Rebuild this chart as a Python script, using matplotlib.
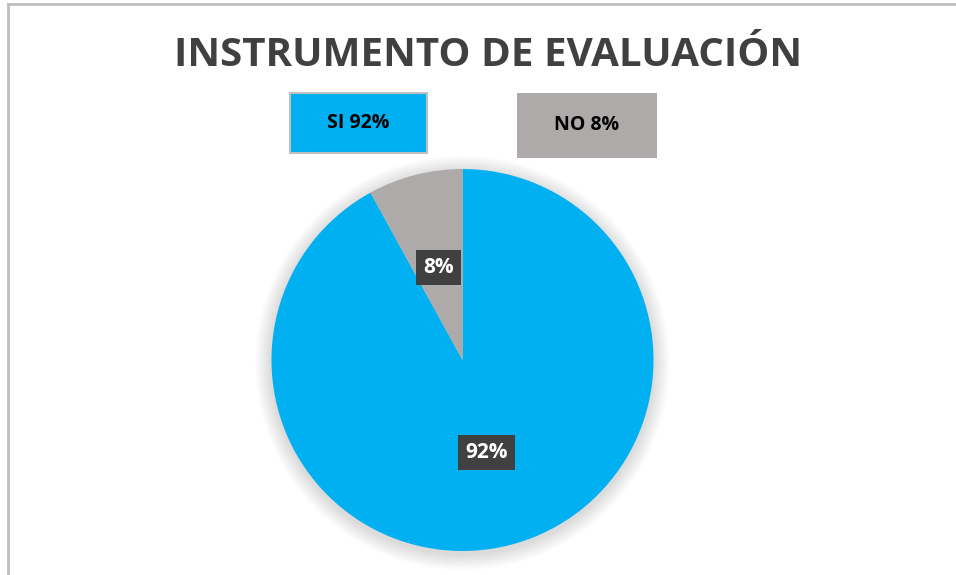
import matplotlib.pyplot as plt
from matplotlib.patches import Rectangle, Circle
from matplotlib.lines import Line2D

categorias = ['SI', 'NO']
valores = [92, 8]
colores = ['#00B0F0', '#AEAAAA']
titulo = 'INSTRUMENTO DE EVALUACIÓN'

W, H = 956, 575
fig = plt.figure(figsize=(W / 100, H / 100), dpi=100)
fig.patch.set_facecolor('white')

def fx(px):
    return px / W

def fy(py):
    return 1 - py / H

# marco gris
fig.add_artist(Line2D([fx(8), fx(8)], [fy(4), 0], color='#BFBFBF', lw=2, transform=fig.transFigure))
fig.add_artist(Line2D([fx(8), 1], [fy(4), fy(4)], color='#BFBFBF', lw=2, transform=fig.transFigure))

fig.text(fx(488), fy(55), titulo, ha='center', va='center', fontsize=29,
         fontweight='bold', color='#404040', family='Open Sans')

# cajas de leyenda
cajas = [(290, 93, 137, 60, '#BFBFBF'), (517, 93, 140, 65, 'none')]
for (x0, y0, w, h, borde), cat, val, col in zip(cajas, categorias, valores, colores):
    fig.add_artist(Rectangle((fx(x0), fy(y0 + h)), fx(w), h / H, facecolor=col,
                             edgecolor=borde, lw=1.5, transform=fig.transFigure))
    fig.text(fx(x0 + w / 2), fy(y0 + h / 2), f'{cat} {val}%', ha='center', va='center',
             fontsize=14, fontweight='bold', color='black', family='Open Sans')

# pastel
cx, cy, r = 462.5, 360, 191
ax = fig.add_axes([fx(cx - r), fy(cy + r), fx(2 * r), 2 * r / H])
ax.set_xlim(-1, 1)
ax.set_ylim(-1, 1)
ax.set_aspect('equal')
ax.axis('off')

# sombra suave
for k in range(12):
    ax.add_patch(Circle((0.0, -0.015), 1.0 + 0.007 * (k + 1), color='black', alpha=0.012,
                        lw=0, zorder=0, clip_on=False))

wedges, texts = ax.pie(valores, colors=colores, startangle=90, counterclock=False,
                       radius=1.0, labels=[f'{v}%' for v in valores], labeldistance=0.5,
                       wedgeprops=dict(linewidth=0))
ax.set_xlim(-1, 1)
ax.set_ylim(-1, 1)
for t in texts:
    t.set_ha('center')
    t.set_va('center')
    t.set_fontsize(15)
    t.set_fontweight('bold')
    t.set_color('white')
    t.set_family('Open Sans')
    t.set_bbox(dict(boxstyle='square,pad=0.35', facecolor='#404040', edgecolor='none'))

fig.savefig('out.png', dpi=100, facecolor='white')
